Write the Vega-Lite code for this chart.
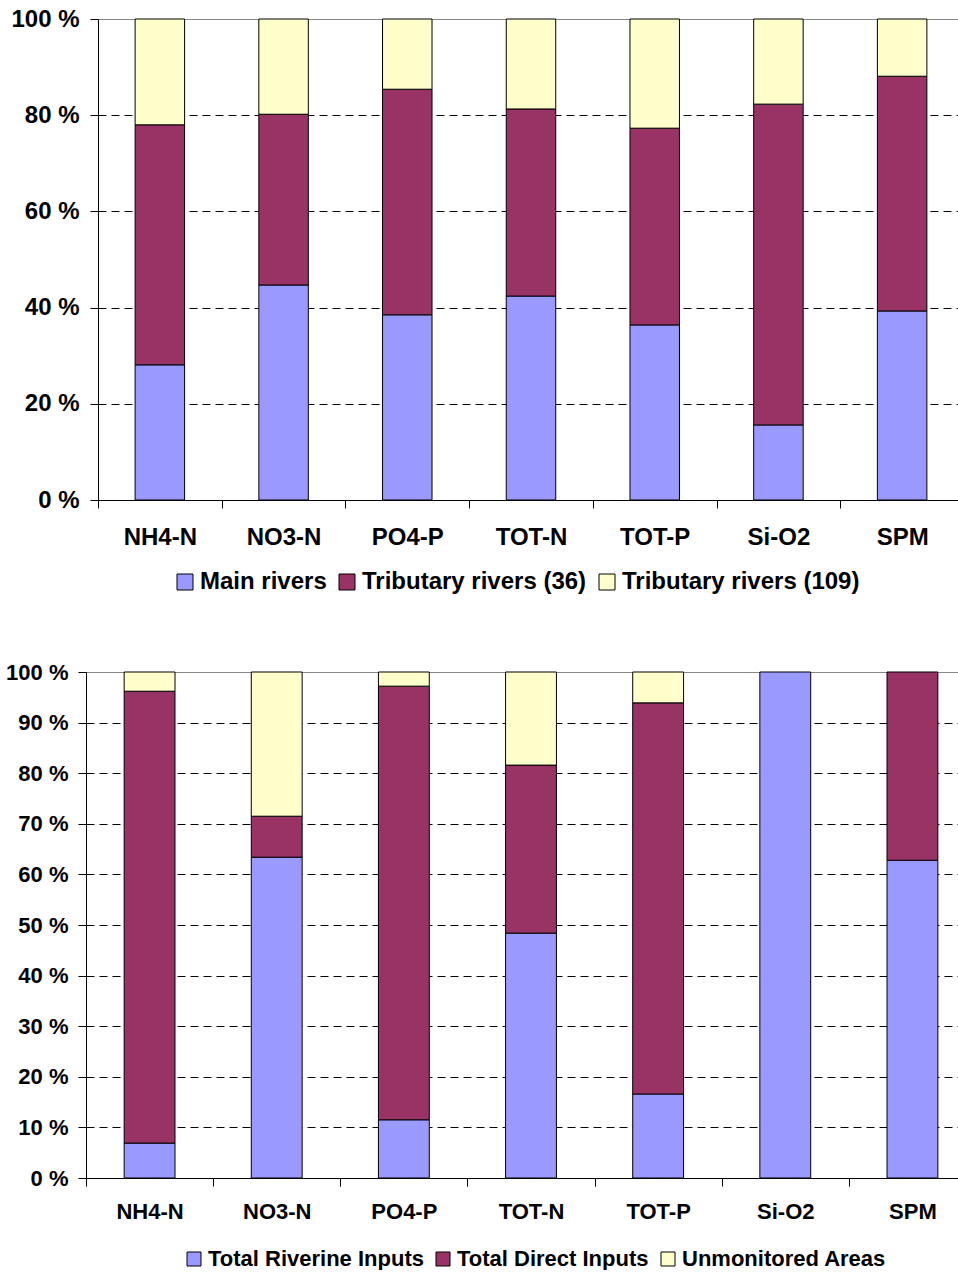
{
  "$schema": "https://vega.github.io/schema/vega-lite/v6.json",
  "padding": {"left": 5, "top": 7, "right": 0, "bottom": 0},
  "spacing": 67,
  "config": {
    "font": "Liberation Sans",
    "view": {"stroke": null},
    "axis": {"domainColor": "black", "tickColor": "black", "labelColor": "black", "labelFontWeight": "bold", "tickSize": 8, "title": null},
    "legend": {"labelFontWeight": "bold", "labelColor": "black", "symbolType": "square", "symbolStrokeColor": "black", "symbolStrokeWidth": 1, "symbolOpacity": 1, "labelLimit": 400, "direction": "horizontal", "columnPadding": 8, "labelOffset": 3, "title": null}
  },
  "vconcat": [
    {
      "width": 866,
      "height": 481,
      "data": {"values": [
        {"param": "NH4-N", "source": "Main rivers", "k": 1, "pct": 28.1},
        {"param": "NH4-N", "source": "Tributary rivers (36)", "k": 2, "pct": 49.9},
        {"param": "NH4-N", "source": "Tributary rivers (109)", "k": 3, "pct": 22.0},
        {"param": "NO3-N", "source": "Main rivers", "k": 1, "pct": 44.7},
        {"param": "NO3-N", "source": "Tributary rivers (36)", "k": 2, "pct": 35.5},
        {"param": "NO3-N", "source": "Tributary rivers (109)", "k": 3, "pct": 19.8},
        {"param": "PO4-P", "source": "Main rivers", "k": 1, "pct": 38.5},
        {"param": "PO4-P", "source": "Tributary rivers (36)", "k": 2, "pct": 46.9},
        {"param": "PO4-P", "source": "Tributary rivers (109)", "k": 3, "pct": 14.6},
        {"param": "TOT-N", "source": "Main rivers", "k": 1, "pct": 42.4},
        {"param": "TOT-N", "source": "Tributary rivers (36)", "k": 2, "pct": 38.9},
        {"param": "TOT-N", "source": "Tributary rivers (109)", "k": 3, "pct": 18.7},
        {"param": "TOT-P", "source": "Main rivers", "k": 1, "pct": 36.4},
        {"param": "TOT-P", "source": "Tributary rivers (36)", "k": 2, "pct": 40.9},
        {"param": "TOT-P", "source": "Tributary rivers (109)", "k": 3, "pct": 22.7},
        {"param": "Si-O2", "source": "Main rivers", "k": 1, "pct": 15.6},
        {"param": "Si-O2", "source": "Tributary rivers (36)", "k": 2, "pct": 66.7},
        {"param": "Si-O2", "source": "Tributary rivers (109)", "k": 3, "pct": 17.7},
        {"param": "SPM", "source": "Main rivers", "k": 1, "pct": 39.3},
        {"param": "SPM", "source": "Tributary rivers (36)", "k": 2, "pct": 48.8},
        {"param": "SPM", "source": "Tributary rivers (109)", "k": 3, "pct": 11.9}
      ]},
      "mark": {"type": "bar", "stroke": "black", "strokeWidth": 1, "width": {"band": 0.4}},
      "encoding": {
        "x": {"field": "param", "type": "nominal", "sort": null,
          "scale": {"paddingInner": 0, "paddingOuter": 0},
          "axis": {"labelAngle": 0, "tickBand": "extent", "labelFontSize": 24, "labelPadding": 17, "grid": false}},
        "y": {"field": "pct", "type": "quantitative", "stack": "zero",
          "scale": {"domain": [0, 100], "nice": false},
          "axis": {"values": [0, 20, 40, 60, 80, 100], "labelExpr": "datum.value + ' %'", "labelFontSize": 24, "labelPadding": 11,
            "grid": true,
            "gridColor": {"condition": {"test": "datum.value === 100", "value": "#888888"}, "value": "black"},
            "gridDash": {"condition": {"test": "datum.value === 100", "value": []}, "value": [8, 5]}}},
        "order": {"field": "k", "type": "quantitative"},
        "color": {"field": "source", "type": "nominal",
          "scale": {"domain": ["Main rivers", "Tributary rivers (36)", "Tributary rivers (109)"], "range": ["#9999FF", "#993366", "#FFFFCC"]},
          "legend": {"orient": "none", "legendX": 75, "legendY": 551, "labelFontSize": 24, "symbolSize": 256}}
      }
    },
    {
      "width": 860,
      "height": 506,
      "data": {"values": [
        {"param": "NH4-N", "source": "Total Riverine Inputs", "k": 1, "pct": 6.9},
        {"param": "NH4-N", "source": "Total Direct Inputs", "k": 2, "pct": 89.3},
        {"param": "NH4-N", "source": "Unmonitored Areas", "k": 3, "pct": 3.8},
        {"param": "NO3-N", "source": "Total Riverine Inputs", "k": 1, "pct": 63.4},
        {"param": "NO3-N", "source": "Total Direct Inputs", "k": 2, "pct": 8.1},
        {"param": "NO3-N", "source": "Unmonitored Areas", "k": 3, "pct": 28.5},
        {"param": "PO4-P", "source": "Total Riverine Inputs", "k": 1, "pct": 11.5},
        {"param": "PO4-P", "source": "Total Direct Inputs", "k": 2, "pct": 85.7},
        {"param": "PO4-P", "source": "Unmonitored Areas", "k": 3, "pct": 2.8},
        {"param": "TOT-N", "source": "Total Riverine Inputs", "k": 1, "pct": 48.4},
        {"param": "TOT-N", "source": "Total Direct Inputs", "k": 2, "pct": 33.2},
        {"param": "TOT-N", "source": "Unmonitored Areas", "k": 3, "pct": 18.4},
        {"param": "TOT-P", "source": "Total Riverine Inputs", "k": 1, "pct": 16.6},
        {"param": "TOT-P", "source": "Total Direct Inputs", "k": 2, "pct": 77.3},
        {"param": "TOT-P", "source": "Unmonitored Areas", "k": 3, "pct": 6.1},
        {"param": "Si-O2", "source": "Total Riverine Inputs", "k": 1, "pct": 100},
        {"param": "SPM", "source": "Total Riverine Inputs", "k": 1, "pct": 62.8},
        {"param": "SPM", "source": "Total Direct Inputs", "k": 2, "pct": 37.2}
      ]},
      "mark": {"type": "bar", "stroke": "black", "strokeWidth": 1, "width": {"band": 0.4}},
      "encoding": {
        "x": {"field": "param", "type": "nominal", "sort": null,
          "scale": {"paddingInner": 0, "paddingOuter": 0, "range": [-12, 878]},
          "axis": {"labelAngle": 0, "tickBand": "extent", "labelFontSize": 22, "labelPadding": 15, "grid": false}},
        "y": {"field": "pct", "type": "quantitative", "stack": "zero",
          "scale": {"domain": [0, 100], "nice": false},
          "axis": {"values": [0, 10, 20, 30, 40, 50, 60, 70, 80, 90, 100], "labelExpr": "datum.value + ' %'", "labelFontSize": 22, "labelPadding": 10,
            "offset": 12, "grid": true,
            "gridColor": {"condition": {"test": "datum.value === 100", "value": "#888888"}, "value": "black"},
            "gridDash": {"condition": {"test": "datum.value === 100", "value": []}, "value": [8, 5]}}},
        "order": {"field": "k", "type": "quantitative"},
        "color": {"field": "source", "type": "nominal",
          "scale": {"domain": ["Total Riverine Inputs", "Total Direct Inputs", "Unmonitored Areas"], "range": ["#9999FF", "#993366", "#FFFFCC"]},
          "legend": {"orient": "none", "legendX": 85, "legendY": 576, "labelFontSize": 22, "symbolSize": 196}}
      }
    }
  ],
  "resolve": {"scale": {"color": "independent", "x": "independent"}}
}
